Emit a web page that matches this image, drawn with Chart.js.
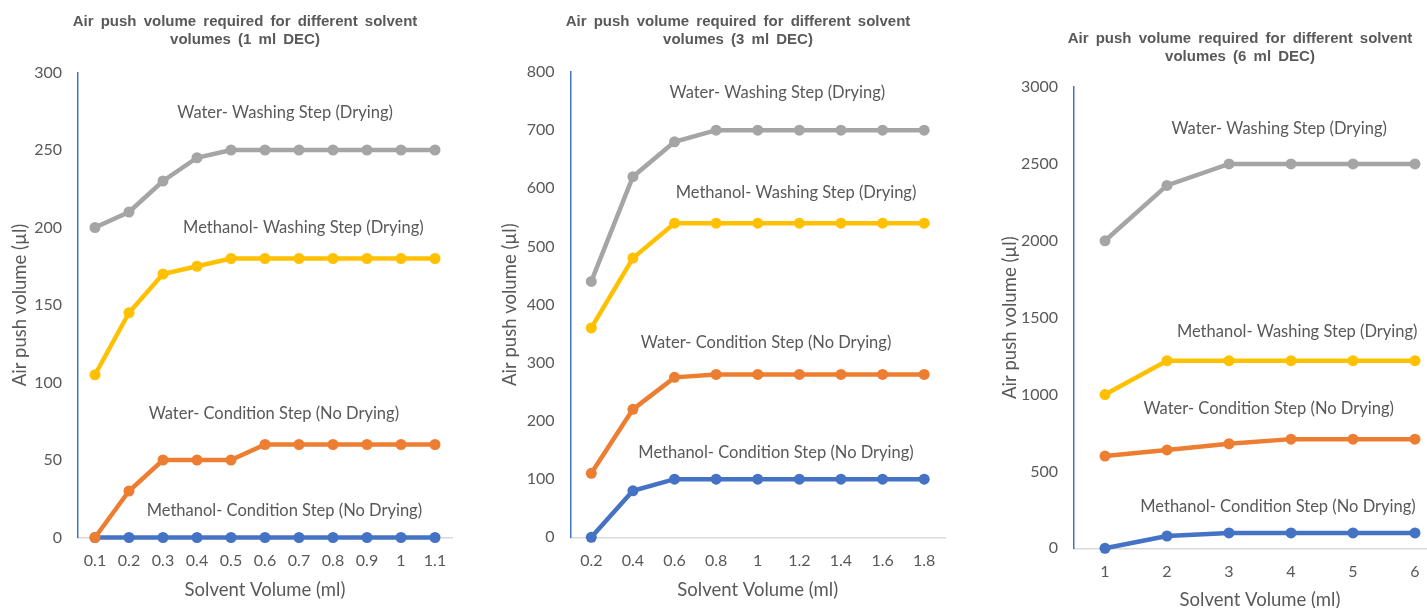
<!DOCTYPE html>
<html>
<head>
<meta charset="utf-8">
<script src="https://cdn.jsdelivr.net/npm/chart.js@4.4.1/dist/chart.umd.min.js"></script>
<style>
  html, body { margin: 0; padding: 0; background: #fff; width: 1427px; height: 608px; overflow: hidden; position: relative; }
  canvas { position: absolute; top: 0; }
</style>
</head>
<body>
<canvas id="c1" width="480" height="608" style="left:0px"></canvas>
<canvas id="c2" width="470" height="608" style="left:495px"></canvas>
<canvas id="c3" width="480" height="640" style="left:990px"></canvas>
<script>
// --- データ (1 ml DEC) ---
const solvent1 = ['0.1', '0.2', '0.3', '0.4', '0.5', '0.6', '0.7', '0.8', '0.9', '1', '1.1'];
const waterWash1 = [200, 210, 230, 245, 250, 250, 250, 250, 250, 250, 250];
const methWash1 = [105, 145, 170, 175, 180, 180, 180, 180, 180, 180, 180];
const waterCond1 = [0, 30, 50, 50, 50, 60, 60, 60, 60, 60, 60];
const methCond1 = [0, 0, 0, 0, 0, 0, 0, 0, 0, 0, 0];

// --- データ (3 ml DEC) ---
const solvent2 = ['0.2', '0.4', '0.6', '0.8', '1', '1.2', '1.4', '1.6', '1.8'];
const waterWash2 = [440, 620, 680, 700, 700, 700, 700, 700, 700];
const methWash2 = [360, 480, 540, 540, 540, 540, 540, 540, 540];
const waterCond2 = [110, 220, 275, 280, 280, 280, 280, 280, 280];
const methCond2 = [0, 80, 100, 100, 100, 100, 100, 100, 100];

// --- データ (6 ml DEC) ---
const solvent3 = ['1', '2', '3', '4', '5', '6'];
const waterWash3 = [2000, 2360, 2500, 2500, 2500, 2500];
const methWash3 = [1000, 1220, 1220, 1220, 1220, 1220];
const waterCond3 = [600, 640, 680, 710, 710, 710];
const methCond3 = [0, 80, 100, 100, 100, 100];

// 軸の範囲
const yMax1 = 300, yStep1 = 50;
const yMax2 = 800, yStep2 = 100;
const yMax3 = 3000, yStep3 = 500;

// 系列名ラベル [テキスト, カテゴリ位置, 値]
const notes1 = [
    ['Water- Washing Step (Drying)', 5.59, 274],
    ['Methanol- Washing Step (Drying)', 6.13, 200],
    ['Water- Condition Step (No Drying)', 5.26, 80],
    ['Methanol- Condition Step (No Drying)', 5.57, 17],
];
const notes2 = [
    ['Water- Washing Step (Drying)', 4.47, 764],
    ['Methanol- Washing Step (Drying)', 4.92, 592],
    ['Water- Condition Step (No Drying)', 4.2, 334],
    ['Methanol- Condition Step (No Drying)', 4.44, 146],
];
const notes3 = [
    ['Water- Washing Step (Drying)', 2.81, 2732],
    ['Methanol- Washing Step (Drying)', 3.1, 1409],
    ['Water- Condition Step (No Drying)', 2.64, 911],
    ['Methanol- Condition Step (No Drying)', 2.79, 271],
];

const COLORS = {
    gray: '#A5A5A5',
    yellow: '#FFC000',
    orange: '#ED7D31',
    blue: '#4472C4',
};
const TEXT = '#595959';

/**
 * タイトル・系列名の描画
 */
const panelText = {
    id: 'panelText',
    afterDatasetsDraw(chart, args, opts) {
        const { ctx, scales: { x, y } } = chart;
        ctx.save();
        ctx.fillStyle = TEXT;
        ctx.textAlign = 'center';
        ctx.textBaseline = 'middle';
        ctx.font = 'bold 15px "Liberation Sans", Arial, sans-serif';
        ctx.wordSpacing = '3px';
        opts.title.forEach((line, i) => ctx.fillText(line, opts.titleX, opts.titleY + i * 17.5));
        ctx.wordSpacing = '0px';
        ctx.font = '16.5px Lato, sans-serif';
        opts.notes.forEach(([text, xi, yv]) => {
            ctx.fillText(text, x.getPixelForValue(xi), y.getPixelForValue(yv));
        });
        ctx.restore();
    },
};

function series(label, data, color) {
    return {
        label,
        data,
        borderColor: color,
        backgroundColor: color,
        pointBackgroundColor: color,
        pointBorderWidth: 0,
        pointRadius: 5.5,
        borderWidth: 4.5,
        tension: 0,
        clip: false,
    };
}

/**
 * グラフ作成
 */
function makeChart(id, p) {
    const ctx = document.getElementById(id).getContext('2d');
    return new Chart(ctx, {
        type: 'line',
        data: {
            labels: p.labels,
            datasets: [
                series('Water- Washing Step (Drying)', p.waterWash, COLORS.gray),
                series('Methanol- Washing Step (Drying)', p.methWash, COLORS.yellow),
                series('Water- Condition Step (No Drying)', p.waterCond, COLORS.orange),
                series('Methanol- Condition Step (No Drying)', p.methCond, COLORS.blue),
            ],
        },
        options: {
            responsive: false,
            animation: false,
            layout: { padding: { top: p.top, right: p.right, left: 0, bottom: 0 } },
            plugins: {
                legend: { display: false },
                tooltip: { enabled: false },
                panelText: { title: p.title, titleX: p.titleX, titleY: p.titleY, notes: p.notes },
            },
            scales: {
                x: {
                    offset: true,
                    grid: { display: false, drawTicks: false },
                    border: { display: true, color: '#D9D9D9', width: 1.5 },
                    ticks: { color: TEXT, padding: 14, maxRotation: 0, font: { family: 'Lato', size: 16 } },
                    title: {
                        display: true,
                        text: 'Solvent Volume (ml)',
                        color: TEXT,
                        font: { family: 'Lato', size: 18.5 },
                        padding: { top: 0, bottom: p.xTitlePad },
                    },
                    afterFit: s => { s.height = p.xHeight; },
                },
                y: {
                    min: 0,
                    max: p.yMax,
                    grid: { display: false, drawTicks: false },
                    border: { display: true, color: COLORS.blue, width: 1.5 },
                    ticks: {
                        stepSize: p.yStep,
                        color: TEXT,
                        padding: 16,
                        font: { family: 'Lato', size: 16 },
                        callback: v => String(v),
                    },
                    title: {
                        display: true,
                        text: 'Air push volume (µl)',
                        color: TEXT,
                        font: { family: 'Lato', size: 18.5 },
                        padding: { top: p.yTitlePad, bottom: 0 },
                    },
                    afterFit: s => { s.width = p.yWidth; },
                },
            },
        },
        plugins: [panelText],
    });
}

document.addEventListener('DOMContentLoaded', () => {
    makeChart('c1', {
        labels: solvent1, waterWash: waterWash1, methWash: methWash1, waterCond: waterCond1, methCond: methCond1,
        yMax: yMax1, yStep: yStep1, notes: notes1,
        title: ['Air push volume required for different solvent', 'volumes (1 ml DEC)'],
        titleX: 245, titleY: 22,
        top: 72.5, right: 28, yWidth: 78, xHeight: 70.5, xTitlePad: 6.9, yTitlePad: 8.9,
    });
    makeChart('c2', {
        labels: solvent2, waterWash: waterWash2, methWash: methWash2, waterCond: waterCond2, methCond: methCond2,
        yMax: yMax2, yStep: yStep2, notes: notes2,
        title: ['Air push volume required for different solvent', 'volumes (3 ml DEC)'],
        titleX: 243, titleY: 22,
        top: 72, right: 20, yWidth: 75.5, xHeight: 70.7, xTitlePad: 6.9, yTitlePad: 3.9,
    });
    makeChart('c3', {
        labels: solvent3, waterWash: waterWash3, methWash: methWash3, waterCond: waterCond3, methCond: methCond3,
        yMax: yMax3, yStep: yStep3, notes: notes3,
        title: ['Air push volume required for different solvent', 'volumes (6 ml DEC)'],
        titleX: 250, titleY: 39,
        top: 87, right: 24, yWidth: 84, xHeight: 91.7, xTitlePad: 28.9, yTitlePad: 8.9,
    });
});
</script>
</body>
</html>
